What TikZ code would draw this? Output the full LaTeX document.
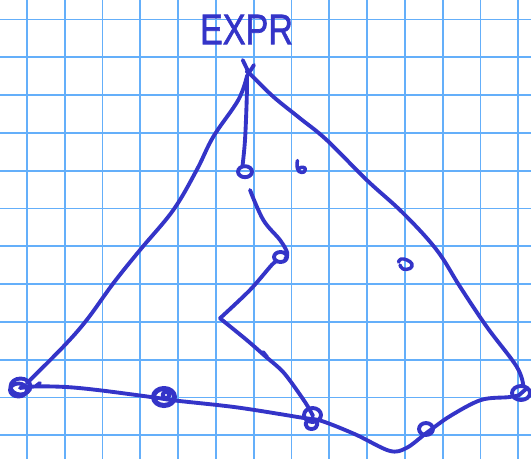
\documentclass[tikz,border=0pt]{standalone}
\usepackage{fontspec}
\setmainfont{Liberation Sans}
\newfontfamily\handfont[FakeBold=1.6]{Liberation Sans}
\definecolor{gridc}{RGB}{100,175,250}
\definecolor{ink}{RGB}{52,52,200}
\tikzset{
  ink/.style={draw=ink, line width=2.9pt, line cap=round, line join=round},
  gridline/.style={draw=gridc, line width=1.4pt},
  label/.style={text=ink, font=\handfont\fontsize{32}{32}\selectfont, inner sep=0pt}
}
\begin{document}
\begin{tikzpicture}[x=0.75pt, y=-0.75pt]
\useasboundingbox (0,0) rectangle (531,459);
\fill[white] (0,0) rectangle (531,459);
% grid
\foreach \k in {0,...,13} { \draw[gridline] ({26.9+37.8*\k},0) -- ({26.9+37.8*\k},459); }
\foreach \k in {0,...,11} { \draw[gridline] (0,{19.5+37.8*\k}) -- (531,{19.5+37.8*\k}); }
% title
\node[label, xscale=0.8] (title) at (246.5,29.5) {EXPR};
% apex cross
\draw[ink] (242.7,60) -- (248.3,71.7);
\draw[ink] (254,65) -- (247,76);
% left side
\draw[ink] plot[smooth, tension=0.6] coordinates {(247,76) (238.3,100) (213.3,136.7) (196.7,170) (173.3,210) (140,250) (113.3,283.3) (86.7,320) (63.3,346.7) (26.7,383.3)};
% right side
\draw[ink] plot[smooth, tension=0.6] coordinates {(247,72) (250,74) (273.3,96.7) (300,118.3) (326.7,140) (366.7,180) (403.3,213.3) (436.7,250) (460,286.7) (486.7,326.7) (516.7,366.7) (523.3,386)};
% middle vertical
\draw[ink] plot[smooth, tension=0.6] coordinates {(247,76) (246.7,100) (245,140) (242.5,166)};
\draw[ink] (245,171.7) ellipse[x radius=7, y radius=5.5];
% zigzag
\draw[ink] plot[smooth, tension=0.6] coordinates {(250,190) (263.3,220) (280,240) (287.3,253) (285,259)};
\draw[ink] (280.5,257) ellipse[x radius=6.5, y radius=5];
\draw[ink] plot[smooth, tension=0.5] coordinates {(277,261) (271.7,265) (250,290) (220,318.3)};
\draw[ink] plot[smooth, tension=0.5] coordinates {(220,318.3) (246.7,340) (265,356) (284,373) (305,402) (313,416)};
\draw[ink] (263,352) -- (267,357);
% bottom curve
\draw[ink] plot[smooth, tension=0.55] coordinates {(20,388) (37.2,386.4) (67.7,387.1) (101.6,390.5) (152.4,397.2) (176,400.6) (237,407.4) (301.4,417.6) (321.7,421) (355.6,434.5) (389.4,450.8) (406.4,448) (426.7,432.8) (450.4,415.9) (480.9,400) (508,397.2) (518,395.6)};
\draw[ink] (36,386) -- (40,383);
% bottom loops
\draw[ink] (20.5,386.5) ellipse[x radius=10, y radius=8];
\draw[ink] (18.5,390) ellipse[x radius=8.5, y radius=6.5];
\draw[ink, line width=3.8pt] (164,397) ellipse[x radius=10.5, y radius=8.5];
\draw[ink] (166,395) ellipse[x radius=3.5, y radius=3];
\draw[ink] (312.5,415) ellipse[x radius=8.5, y radius=7];
\draw[ink] (311.5,424) ellipse[x radius=6, y radius=5];
\draw[ink] (426,429) ellipse[x radius=7, y radius=6];
\draw[ink] (521,393) ellipse[x radius=9, y radius=7];
\draw[ink] (518,396) -- (526,389);
% small marks
\draw[ink, line width=2.6pt] plot[smooth, tension=0.7] coordinates {(297.5,160.5) (297,166) (299,171.5) (304,172) (305,168) (300.5,167.5) (298.5,170)};
\draw[ink, line width=2.6pt] plot[smooth, tension=0.7] coordinates {(398.5,262) (401,259) (407,260) (412,264) (410,268.5) (403,269) (400,265)};
\end{tikzpicture}
\end{document}
